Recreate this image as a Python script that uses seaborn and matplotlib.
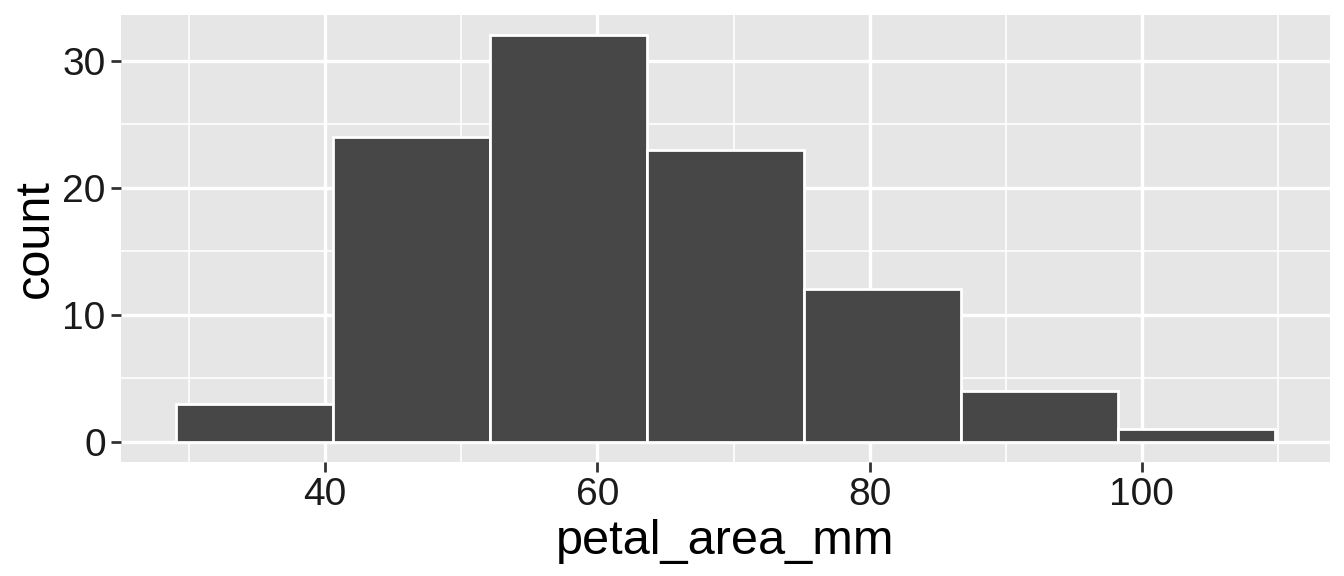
import matplotlib
matplotlib.use("Agg")
import matplotlib.pyplot as plt
import seaborn as sns
import numpy as np

# data
bin_edges = [29.04, 40.57, 52.11, 63.64, 75.18, 86.71, 98.25, 109.78]
bin_centers = [34.81, 46.34, 57.88, 69.41, 80.95, 92.48, 104.02]
counts = [3, 24, 32, 23, 12, 4, 1]
x_ticks = [40, 60, 80, 100]
x_minor = [30, 50, 70, 90, 110]
y_ticks = [0, 10, 20, 30]
y_minor = [5, 15, 25]

sns.set_theme(style="darkgrid")
plt.rcParams['font.family'] = ['Liberation Sans', 'DejaVu Sans']

fig = plt.figure(figsize=(13.44, 5.76), dpi=100)
ax = fig.add_axes([121/1344, 1 - 462/576, (1330 - 121)/1344, (462 - 15)/576])
ax.set_facecolor("#E6E6E6")

sns.histplot(x=bin_centers, weights=counts, bins=bin_edges, ax=ax,
             color="#474747", edgecolor="white", linewidth=2, alpha=1, zorder=3)

span = bin_edges[-1] - bin_edges[0]
ax.set_xlim(bin_edges[0] - 0.05 * span, bin_edges[-1] + 0.05 * span)
ymax = max(counts)
ax.set_ylim(-0.05 * ymax, ymax * 1.05)

ax.set_xticks(x_ticks)
ax.set_xticks(x_minor, minor=True)
ax.set_yticks(y_ticks)
ax.set_yticks(y_minor, minor=True)
ax.grid(which="major", color="white", linewidth=2.4, zorder=0)
ax.grid(which="minor", color="white", linewidth=1.2, zorder=0)
ax.set_axisbelow(True)
for s in ax.spines.values():
    s.set_visible(False)

ax.tick_params(axis="both", which="major", length=7, width=2, color="#333333",
               labelsize=28, labelcolor="#1A1A1A", pad=4, direction="out",
               bottom=True, left=True)
ax.tick_params(axis="both", which="minor", length=0)

ax.set_xlabel("petal_area_mm", fontsize=35, color="black", labelpad=4)
ax.set_ylabel("count", fontsize=35, color="black", labelpad=3)

fig.savefig("out.png", dpi=100)
